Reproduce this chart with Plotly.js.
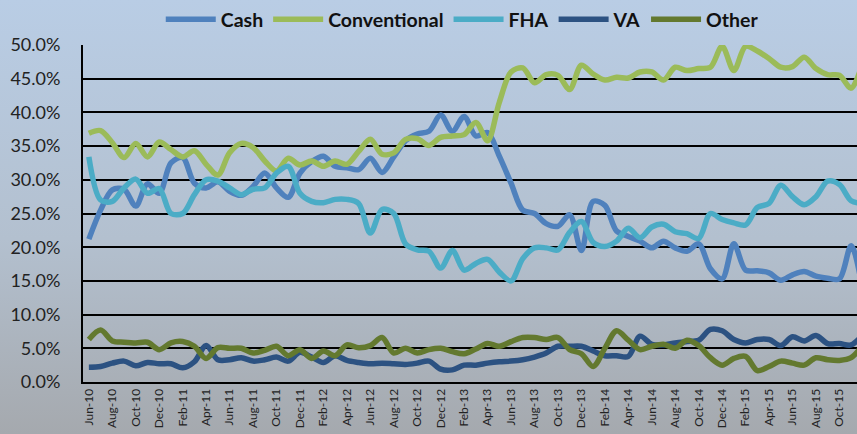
<!DOCTYPE html>
<html>
<head>
<meta charset="utf-8">
<script src="https://cdn.plot.ly/plotly-3.0.1.min.js"></script>
<style>
  html, body { margin: 0; padding: 0; }
  #chart { width: 857px; height: 434px; background: linear-gradient(#b9cde5, #b3c0cf 55%, #a5a9ae); }
</style>
</head>
<body>
<div id="chart"></div>
<script>
// months Jun-10 .. Dec-15 (last one falls just past the right edge)
var months = ['Jun-10','Jul-10','Aug-10','Sep-10','Oct-10','Nov-10','Dec-10',
  'Jan-11','Feb-11','Mar-11','Apr-11','May-11','Jun-11','Jul-11','Aug-11','Sep-11','Oct-11','Nov-11','Dec-11',
  'Jan-12','Feb-12','Mar-12','Apr-12','May-12','Jun-12','Jul-12','Aug-12','Sep-12','Oct-12','Nov-12','Dec-12',
  'Jan-13','Feb-13','Mar-13','Apr-13','May-13','Jun-13','Jul-13','Aug-13','Sep-13','Oct-13','Nov-13','Dec-13',
  'Jan-14','Feb-14','Mar-14','Apr-14','May-14','Jun-14','Jul-14','Aug-14','Sep-14','Oct-14','Nov-14','Dec-14',
  'Jan-15','Feb-15','Mar-15','Apr-15','May-15','Jun-15','Jul-15','Aug-15','Sep-15','Oct-15','Nov-15','Dec-15'];

var cash = [21.2,25.5,28.5,28.6,26.1,29.4,28.0,
  32.5,33.3,29.5,28.8,29.7,28.3,27.7,29.0,31.0,28.8,27.4,31.0,
  32.7,33.5,32.0,31.8,31.5,33.2,31.1,33.4,35.8,36.8,37.2,39.6,
  37.2,39.4,36.5,37.0,33.5,29.5,25.5,25.0,23.5,23.1,24.8,19.5,
  26.8,26.2,22.4,21.6,20.9,19.9,20.9,19.9,19.4,20.5,16.8,15.3,
  20.5,16.6,16.5,16.2,15.1,15.9,16.4,15.7,15.4,15.3,20.2,13.5];

var conventional = [36.9,37.3,35.5,33.3,35.4,33.4,35.6,
  34.5,33.4,34.3,32.3,30.7,34.0,35.4,34.8,32.8,31.3,33.2,32.2,
  32.8,32.0,32.8,32.3,34.2,36.0,33.8,34.0,36.0,36.1,35.1,36.3,
  36.5,36.7,38.5,35.8,41.5,46.0,46.6,44.4,45.6,45.5,43.4,47.0,
  45.7,44.8,45.2,45.1,46.0,46.0,44.8,46.7,46.2,46.5,46.7,49.8,
  46.2,49.8,49.1,48.0,46.7,46.8,48.2,46.5,45.6,45.5,43.6,47.5];

var fha = [33.4,27.0,26.8,28.8,30.1,28.0,28.7,
  25.0,25.0,27.8,30.0,29.8,28.8,27.8,28.6,28.8,31.0,32.0,28.0,
  26.8,26.6,27.1,27.1,26.5,22.1,25.6,25.0,20.5,19.6,19.4,16.9,
  19.5,16.6,17.6,18.2,16.3,15.0,18.3,19.9,19.9,19.6,22.2,23.8,
  20.7,20.1,20.9,22.8,21.4,23.0,23.4,22.3,22.0,21.3,25.0,24.1,
  23.6,23.3,25.9,26.5,29.2,27.5,26.3,27.5,29.8,29.3,26.9,26.5];

var va = [2.2,2.3,2.8,3.1,2.4,2.9,2.7,
  2.7,2.1,3.0,5.4,3.3,3.3,3.6,3.1,3.3,3.7,3.1,4.4,
  3.7,2.9,3.9,3.2,2.9,2.7,2.8,2.7,2.6,2.8,3.1,1.9,
  1.8,2.5,2.5,2.8,3.0,3.1,3.3,3.7,4.3,5.3,5.3,5.3,
  4.6,3.9,3.9,3.8,6.8,5.6,5.5,5.8,6.0,6.2,7.8,7.6,
  6.3,5.8,6.3,6.3,5.4,6.7,6.1,6.9,5.7,5.7,5.5,7.0];

var other = [6.3,7.7,6.1,5.9,5.8,5.9,4.8,
  5.8,6.0,5.3,3.5,5.1,5.0,5.0,4.3,4.7,5.3,3.9,4.8,
  3.5,4.6,3.9,5.5,5.1,5.4,6.6,4.3,5.0,4.3,4.8,5.0,
  4.5,4.2,4.9,5.7,5.3,6.0,6.6,6.6,6.3,6.6,4.8,4.2,
  2.3,5.0,7.6,6.2,4.8,5.3,5.6,5.0,6.2,5.4,3.6,2.5,
  3.5,3.8,1.7,2.3,3.1,2.8,2.5,3.6,3.3,3.2,3.6,5.5];

var names = ['Cash','Conventional','FHA','VA','Other'];
var series = [cash, conventional, fha, va, other];
var colors = ['#4f81bd','#9bbb59','#4bacc6','#2c5282','#63792f'];

var data = series.map(function (vals, i) {
  return {
    x: months,
    y: vals,
    type: 'scatter',
    mode: 'lines',
    name: names[i],
    line: { color: colors[i], width: 5.5, shape: 'spline', smoothing: 0.9 },
    hoverinfo: 'x+y+name'
  };
});

var layout = {
  width: 857,
  height: 434,
  margin: { l: 83, r: 0, t: 43, b: 52 },
  paper_bgcolor: 'rgba(0,0,0,0)',
  plot_bgcolor: 'rgba(0,0,0,0)',
  font: { family: 'Lato, "Open Sans", sans-serif', color: '#1a1a1a' },
  showlegend: true,
  legend: {
    orientation: 'h',
    x: 0.49, xanchor: 'center',
    y: 1.077, yanchor: 'middle',
    bgcolor: 'rgba(0,0,0,0)',
    font: { size: 19.5, weight: 'bold', color: '#111' },
    itemwidth: 50,
    traceorder: 'normal'
  },
  xaxis: {
    type: 'category',
    range: [-0.5, 65.5],
    dtick: 2,
    tickangle: -90,
    tickfont: { size: 12, color: '#222' },
    showgrid: false,
    showline: true,
    linecolor: '#000',
    linewidth: 2,
    ticks: '',
    fixedrange: true
  },
  yaxis: {
    range: [0, 50],
    dtick: 5,
    tickformat: '.1f',
    ticksuffix: '%',
    tickfont: { size: 18, color: '#222' },
    showgrid: true,
    gridcolor: '#000',
    gridwidth: 2,
    showline: true,
    linecolor: '#000',
    linewidth: 2,
    zeroline: false,
    ticks: '',
    ticklabelstandoff: 17,
    fixedrange: true
  }
};

Plotly.newPlot('chart', data, layout, { displayModeBar: false, staticPlot: true });
</script>
</body>
</html>
